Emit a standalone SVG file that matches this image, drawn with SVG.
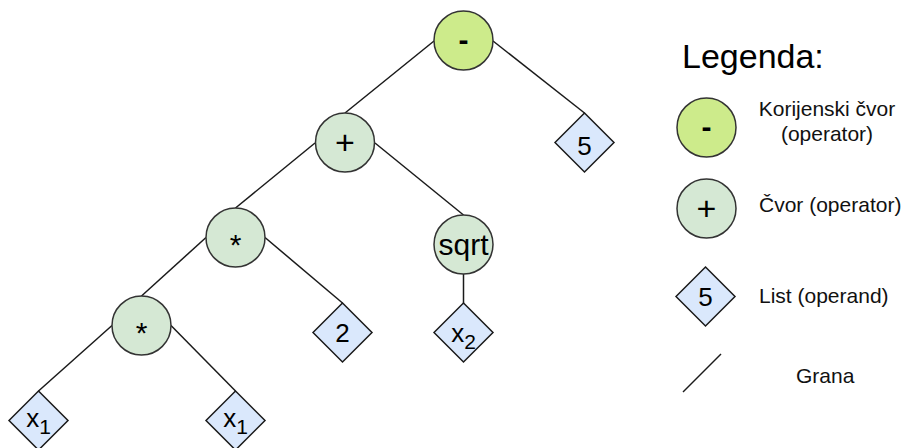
<svg xmlns="http://www.w3.org/2000/svg" width="901" height="448" viewBox="0 0 901 448">
<style>
.e{stroke:#1a1a1a;stroke-width:1.5;fill:none}
.root{fill:#cdeb8b;stroke:#333;stroke-width:1.5}
.op{fill:#d5e8d4;stroke:#333;stroke-width:1.5}
.leaf{fill:#dae8fc;stroke:#1a1a1a;stroke-width:1.5}
text{font-family:"Liberation Sans",Arial,sans-serif;fill:#000}
.o{font-size:30px;text-anchor:middle}
.d{font-size:30px;text-anchor:middle;font-weight:bold}
.p{font-size:34px;text-anchor:middle}
.n{font-size:26px;text-anchor:middle}
.l{font-size:21px;fill:#111}
</style>
<rect width="901" height="448" fill="#fff"/>
<g id="edges">
<line class="e" x1="434" y1="41" x2="345" y2="113"/>
<line class="e" x1="493" y1="41" x2="584.5" y2="113"/>
<line class="e" x1="315" y1="143" x2="235.5" y2="208"/>
<line class="e" x1="375" y1="143" x2="463.5" y2="215"/>
<line class="e" x1="206" y1="237.5" x2="141.5" y2="296"/>
<line class="e" x1="265" y1="237.5" x2="342.5" y2="303"/>
<line class="e" x1="463.5" y1="274" x2="463.5" y2="303"/>
<line class="e" x1="112" y1="325.5" x2="38.5" y2="391"/>
<line class="e" x1="171" y1="325.5" x2="235.5" y2="391"/>
</g>
<g id="n-root"><circle class="root" cx="463.5" cy="40.5" r="29.5"/><text class="d" x="463.5" y="50">-</text></g>
<g id="n-plus"><circle class="op" cx="345" cy="142.5" r="29.5"/><text class="p" x="345" y="154">+</text></g>
<g id="n-five"><polygon class="leaf" points="584.5,113 614,142.5 584.5,172 555,142.5"/><text class="n" x="584.5" y="155">5</text></g>
<g id="n-mul1"><circle class="op" cx="235.5" cy="237.5" r="29.5"/><text class="o" x="235.5" y="255">*</text></g>
<g id="n-sqrt"><circle class="op" cx="463.5" cy="244.5" r="29.5"/><text class="o" x="463.5" y="255">sqrt</text></g>
<g id="n-two"><polygon class="leaf" points="342.5,303 372,332.5 342.5,362 313,332.5"/><text class="n" x="342.5" y="342">2</text></g>
<g id="n-x2"><polygon class="leaf" points="463.5,303 493,332.5 463.5,362 434,332.5"/><text class="n" x="463.5" y="342">x<tspan font-size="21" dy="7">2</tspan></text></g>
<g id="n-mul2"><circle class="op" cx="141.5" cy="325.5" r="29.5"/><text class="o" x="141.5" y="343">*</text></g>
<g id="n-x1a"><polygon class="leaf" points="38.5,391 68,420.5 38.5,450 9,420.5"/><text class="n" x="38.5" y="427">x<tspan font-size="21" dy="7">1</tspan></text></g>
<g id="n-x1b"><polygon class="leaf" points="235.5,391 265,420.5 235.5,450 206,420.5"/><text class="n" x="235.5" y="427">x<tspan font-size="21" dy="7">1</tspan></text></g>
<g id="legend">
<text x="682" y="68" font-size="34">Legenda:</text>
<circle class="root" cx="706.5" cy="127.5" r="29.5"/><text class="d" x="706.5" y="137">-</text>
<text class="l" x="827" y="116" text-anchor="middle">Korijenski čvor</text>
<text class="l" x="827" y="141" text-anchor="middle">(operator)</text>
<circle class="op" cx="706.5" cy="208.5" r="29.5"/><text class="p" x="706.5" y="220">+</text>
<text class="l" x="759" y="212">Čvor (operator)</text>
<polygon class="leaf" points="705.5,267 735,296.5 705.5,326 676,296.5"/><text class="n" x="705.5" y="306">5</text>
<text class="l" x="759" y="303">List (operand)</text>
<line class="e" x1="683" y1="392" x2="721" y2="354"/>
<text class="l" x="796" y="383">Grana</text>
</g>
</svg>
